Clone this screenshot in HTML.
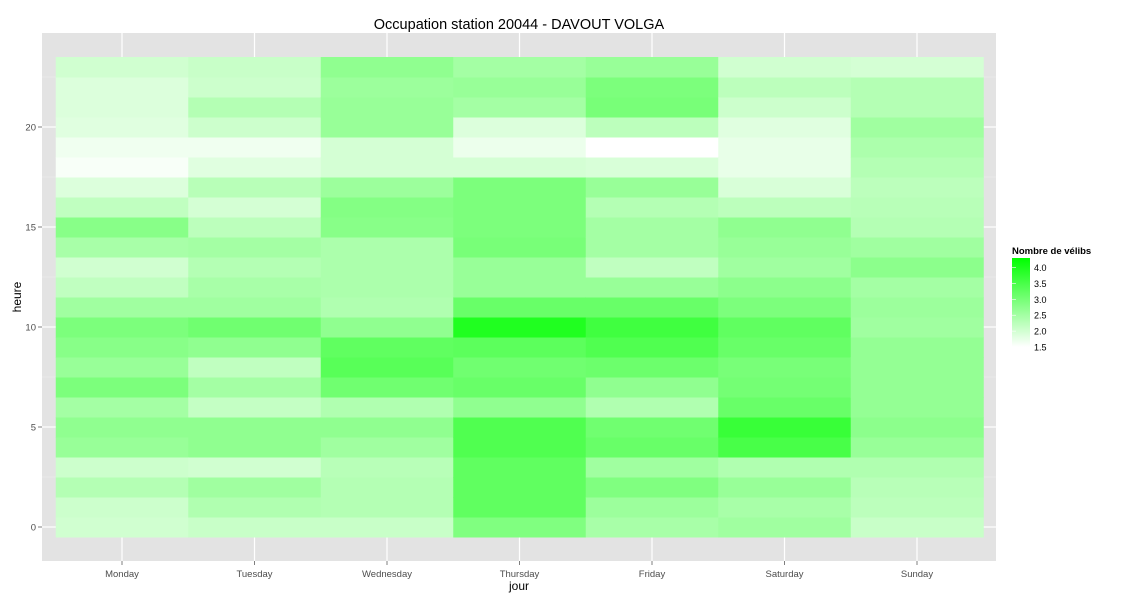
<!DOCTYPE html>
<html><head><meta charset="utf-8"><style>
html,body{margin:0;padding:0;background:#fff;}
svg{display:block;font-family:"Liberation Sans",sans-serif;}
</style></head><body>
<svg id="chart" width="1125" height="600" viewBox="0 0 1125 600" xmlns="http://www.w3.org/2000/svg">
<defs><linearGradient id="lg" x1="0" y1="1" x2="0" y2="0"><stop offset="0" stop-color="#ffffff"/><stop offset="1" stop-color="#00ff00"/></linearGradient></defs>
<text x="519" y="29" font-size="14.5" text-anchor="middle" fill="#000">Occupation station 20044 - DAVOUT VOLGA</text>
<rect x="42" y="33" width="954" height="528" fill="#e3e3e3"/>
<g id="grid"></g><g id="tiles"></g><g id="axes"></g>
<text x="519" y="590" font-size="12" text-anchor="middle">jour</text>
<text transform="translate(21,297) rotate(-90)" font-size="12" text-anchor="middle">heure</text>
<g>
<text x="1012" y="254" font-size="9.5" font-weight="bold">Nombre de vélibs</text>
<rect x="1012" y="258" width="18" height="89" fill="url(#lg)"/>
<g id="legend-labels"></g>
</g>
</svg>
<script>
const days = ["Monday","Tuesday","Wednesday","Thursday","Friday","Saturday","Sunday"];
const yTicks = [0,5,10,15,20];
const legendTicks = ["1.5","2.0","2.5","3.0","3.5","4.0"];
// values per day, hour 0..23
const monday    = [2.02,2.06,2.32,2.06,2.63,2.72,2.50,2.94,2.63,2.81,2.94,2.54,2.19,2.02,2.46,2.81,2.19,1.88,1.58,1.66,1.84,1.88,1.88,2.02];
const tuesday   = [2.10,2.37,2.54,2.02,2.72,2.72,2.15,2.50,2.19,2.72,3.07,2.54,2.46,2.32,2.50,2.24,1.97,2.28,1.84,1.66,2.06,2.32,2.06,2.10];
const wednesday = [2.10,2.32,2.32,2.28,2.54,2.72,2.37,3.07,3.33,3.25,2.72,2.37,2.41,2.41,2.41,2.81,2.85,2.59,1.97,1.97,2.63,2.63,2.59,2.72];
const thursday  = [2.89,3.25,3.25,3.25,3.42,3.42,2.72,3.16,3.07,3.29,3.95,3.16,2.63,2.63,2.98,2.94,2.94,2.94,1.97,1.71,1.88,2.50,2.63,2.50];
const friday    = [2.46,2.59,2.89,2.54,3.16,3.07,2.37,2.72,3.11,3.42,3.60,3.16,2.63,2.19,2.50,2.50,2.32,2.63,1.93,1.50,2.24,2.98,2.94,2.63];
const saturday  = [2.54,2.46,2.63,2.37,3.51,3.69,3.16,3.03,2.98,3.16,3.25,2.94,2.76,2.54,2.63,2.72,2.24,1.93,1.75,1.75,1.84,2.06,2.24,2.02];
const sunday    = [2.10,2.24,2.28,2.37,2.63,2.76,2.68,2.68,2.68,2.68,2.54,2.59,2.50,2.76,2.54,2.32,2.28,2.24,2.32,2.41,2.54,2.32,2.32,1.97];
const series = [monday,tuesday,wednesday,thursday,friday,saturday,sunday];
const vMin = 1.5, vMax = 4.3;

const NS = "http://www.w3.org/2000/svg";
const xStep = 132.5;
function xPix(i){ return 122 + xStep*i; }
function yPix(h){ return 527 - 20*h; }
function color(v){
  let t = (v - vMin)/(vMax - vMin); t = Math.max(0, Math.min(1, t));
  const c = Math.round(255*(1-t));
  return "rgb("+c+",255,"+c+")";
}
function mk(tag, attrs, parent){
  const e = document.createElementNS(NS, tag);
  for (const k in attrs) e.setAttribute(k, attrs[k]);
  parent.appendChild(e); return e;
}
const grid = document.getElementById("grid");
for (let h = 2.5; h <= 22.5; h += 5){
  const l = mk("line",{x1:42,x2:996,y1:yPix(h),y2:yPix(h),stroke:"#f0f0f0","stroke-width":0.6},grid);
  
  
}
yTicks.forEach(h=>{
  const l = mk("line",{x1:42,x2:996,y1:yPix(h),y2:yPix(h),stroke:"#fff","stroke-width":1.2},grid);
  
  
});
days.forEach((d,i)=>{
  const l = mk("line",{x1:xPix(i),x2:xPix(i),y1:33,y2:561,stroke:"#fff","stroke-width":1.2},grid);
  
  
});
const tiles = document.getElementById("tiles");
series.forEach((vals,i)=>{
  vals.forEach((v,h)=>{
    const r = mk("rect",{x:(xPix(i)-xStep/2).toFixed(2),y:yPix(h)-10,width:xStep+0.5,height:20.5,fill:color(v)},tiles);
    
    
  });
});
const axes = document.getElementById("axes");
days.forEach((d,i)=>{
  const t = mk("line",{x1:xPix(i),x2:xPix(i),y1:561,y2:565,stroke:"#7f7f7f"},axes);
  
  
  const tx = mk("text",{x:xPix(i),y:577,"font-size":9.5,"text-anchor":"middle",fill:"#4d4d4d"},axes);
  tx.textContent = d;
  
  
});
yTicks.forEach(h=>{
  const t = mk("line",{x1:38,x2:42,y1:yPix(h),y2:yPix(h),stroke:"#7f7f7f"},axes);
  
  
  const tx = mk("text",{x:36,y:yPix(h)+3.5,"font-size":9.5,"text-anchor":"end",fill:"#4d4d4d"},axes);
  tx.textContent = String(h);
  
  
});
const ll = document.getElementById("legend-labels");
legendTicks.forEach(s=>{
  const v = parseFloat(s);
  const y = 347 - (v - vMin)/(vMax - vMin)*89;
  const tx = mk("text",{x:1034,y:y+3.5,"font-size":9,fill:"#000"},ll);
  tx.textContent = s;
  
  
  const tk = mk("line",{x1:1012,x2:1016,y1:y,y2:y,stroke:"#fff","stroke-width":0.6},ll);
  
  
});
</script>
</body></html>
